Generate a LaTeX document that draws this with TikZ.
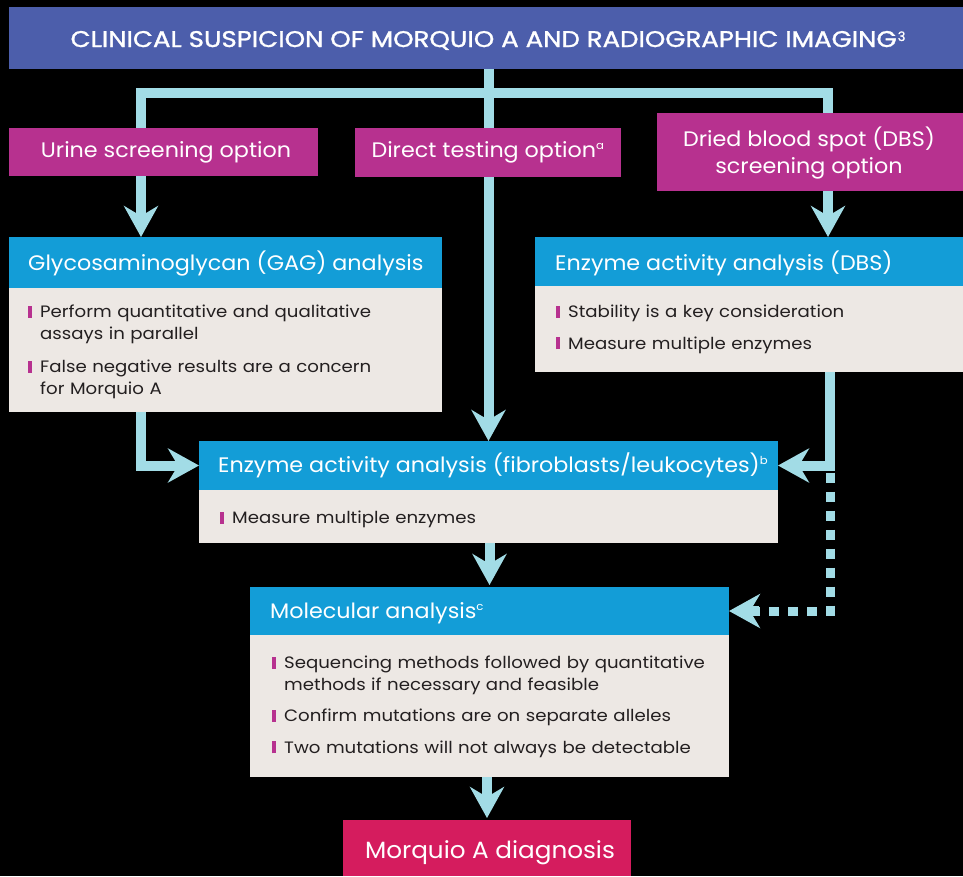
\documentclass[tikz,border=0pt]{standalone}
\usepackage{fontspec}
\setmainfont{Poppins}
\newfontfamily\titlefont[FakeStretch=1.06]{Poppins}
\newfontfamily\bodyfont[FakeStretch=1.1]{Poppins}
\newfontfamily\finalfont[FakeStretch=1.05]{Poppins}
\newfontfamily\headfont[FakeBold=1.2]{Poppins}
\usetikzlibrary{arrows.meta}
\definecolor{hdrblue}{HTML}{4C5EAB}
\definecolor{optmag}{HTML}{B7318F}
\definecolor{boxblue}{HTML}{139DD7}
\definecolor{beige}{HTML}{EDE8E4}
\definecolor{connc}{HTML}{A2DCE6}
\definecolor{finalred}{HTML}{D51C5E}
\definecolor{txtdark}{HTML}{231F20}
\pgfdeclarelayer{bgl}
\pgfdeclarelayer{connl}
\pgfsetlayers{bgl,connl,main}
\newcommand{\bitem}[1]{\noindent\hangindent=12pt\hangafter=1\makebox[12pt][l]{\textcolor{optmag}{\rule{4pt}{12pt}}}#1\par}
\tikzset{
  rectbox/.style={anchor=north west, inner sep=0pt, outer sep=0pt},
  titletext/.style={anchor=base west, inner sep=0pt, text=white, font=\titlefont\fontsize{21}{25}\selectfont},
  opttext/.style={inner sep=0pt, text=white, align=center, font=\titlefont\fontsize{21}{27}\selectfont},
  bodytext/.style={anchor=north west, inner sep=0pt, text=txtdark, align=left, text width=440pt, font=\bodyfont\fontsize{16.5}{21.5}\selectfont},
  conn/.style={draw=connc, line width=10pt, line join=miter},
  tip/.style={-{Stealth[length=31pt, width=34pt, inset=10pt]}},
  dotconn/.style={draw=connc, line width=9pt, dash pattern=on 10pt off 9pt}
}
\begin{document}
\begin{tikzpicture}[x=1pt,y=-1pt]
\begin{pgfonlayer}{bgl}
\fill[black] (0,0) rectangle (963,876);
\end{pgfonlayer}
\useasboundingbox (0,0) rectangle (963,876);

% header
\node[rectbox, fill=hdrblue, minimum width=954pt, minimum height=62pt] (header) at (9,7) {};
\node[inner sep=0pt, text=white, anchor=base, font=\headfont] (headerT) at (488,47)
  {\resizebox{826pt}{16pt}{CLINICAL SUSPICION OF MORQUIO A AND RADIOGRAPHIC IMAGING}\hspace{1pt}\raisebox{6pt}{\fontsize{13}{14}\selectfont 3}};

% option boxes
\node[rectbox, fill=optmag, minimum width=309pt, minimum height=48pt] (urine) at (9,128) {};
\node[opttext] (urineT) at (166,152) {Urine screening option};
\node[rectbox, fill=optmag, minimum width=266pt, minimum height=49pt] (direct) at (355,128) {};
\node[opttext] (directT) at (488,152) {Direct testing option\textsuperscript{\fontsize{11}{12}\selectfont a}};
\node[rectbox, fill=optmag, minimum width=306pt, minimum height=78pt] (dbs) at (657,113) {};
\node[opttext] (dbsT) at (809,153) {Dried blood spot (DBS)\\screening option};

% GAG box
\node[rectbox, fill=boxblue, minimum width=433pt, minimum height=51pt] (gagH) at (9,237) {};
\node[rectbox, fill=beige, minimum width=433pt, minimum height=124pt] (gagB) at (9,288) {};
\node[titletext] (gagT) at (28,270) {Glycosaminoglycan (GAG) analysis};
\node[bodytext] (gagL) at (28,305) {%
\bitem{Perform quantitative and qualitative\newline assays in parallel}\vspace{12pt}%
\bitem{False negative results are a concern\newline for Morquio A}};

% DBS enzyme box
\node[rectbox, fill=boxblue, minimum width=428pt, minimum height=49pt] (dbsH) at (535,237) {};
\node[rectbox, fill=beige, minimum width=428pt, minimum height=86pt] (dbsB) at (535,286) {};
\node[titletext] (dbsTT) at (555,270) {Enzyme activity analysis (DBS)};
\node[bodytext] (dbsL) at (556,305) {%
\bitem{Stability is a key consideration}\vspace{10pt}%
\bitem{Measure multiple enzymes}};

% fibroblast box
\node[rectbox, fill=boxblue, minimum width=579pt, minimum height=49pt] (fibH) at (199,441) {};
\node[rectbox, fill=beige, minimum width=579pt, minimum height=53pt] (fibB) at (199,490) {};
\node[titletext] (fibT) at (218,472) {Enzyme activity analysis (fibroblasts/leukocytes)\textsuperscript{\fontsize{11}{12}\selectfont b}};
\node[bodytext] (fibL) at (220,511) {\bitem{Measure multiple enzymes}};

% molecular box
\node[rectbox, fill=boxblue, minimum width=479pt, minimum height=48pt] (molH) at (250,587) {};
\node[rectbox, fill=beige, minimum width=479pt, minimum height=142pt] (molB) at (250,635) {};
\node[titletext] (molT) at (270,618) {Molecular analysis\textsuperscript{\fontsize{11}{12}\selectfont c}};
\node[bodytext] (molL) at (272,656) {%
\bitem{Sequencing methods followed by quantitative\newline methods if necessary and feasible}\vspace{10pt}%
\bitem{Confirm mutations are on separate alleles}\vspace{10pt}%
\bitem{Two mutations will not always be detectable}};

% final
\node[rectbox, fill=finalred, minimum width=288pt, minimum height=56pt] (final) at (343,820) {};
\node[inner sep=0pt, text=white, anchor=base, font=\finalfont\fontsize{23.5}{28}\selectfont] (finalT) at (490,858) {Morquio A diagnosis};

% connectors
\coordinate (jL) at (141,93);
\coordinate (jR) at (828,93);
\coordinate (gagX) at (141,412);
\coordinate (dbsX) at (830,372);
\begin{pgfonlayer}{connl}
\draw[conn, {Stealth[length=31pt, width=34pt, inset=10pt]}-{Stealth[length=31pt, width=34pt, inset=10pt]}]
  (jL |- gagH.north) -- (jL) -- (jR) -- (jR |- dbsH.north);
\draw[conn, tip] (fibH.north |- header.south) -- (fibH.north);
\draw[conn, tip] (gagX |- gagB.south) -- (gagX |- fibH.west) -- (fibH.west);
\draw[conn, tip] (dbsX |- dbsB.south) -- (dbsX |- fibH.east) -- (fibH.east);
\draw[dotconn] ([yshift=-7pt]dbsX |- fibH.east) -- (dbsX |- molH.east) -- ([xshift=28pt]molH.east);
\draw[conn, tip] ([xshift=30pt]molH.east) -- (molH.east);
\draw[conn, tip] (molH.north |- fibB.south) -- ([yshift=2pt]molH.north);
\draw[conn, tip] (final.north |- molB.south) -- ([yshift=2pt]final.north);
\end{pgfonlayer}
\end{tikzpicture}
\end{document}
